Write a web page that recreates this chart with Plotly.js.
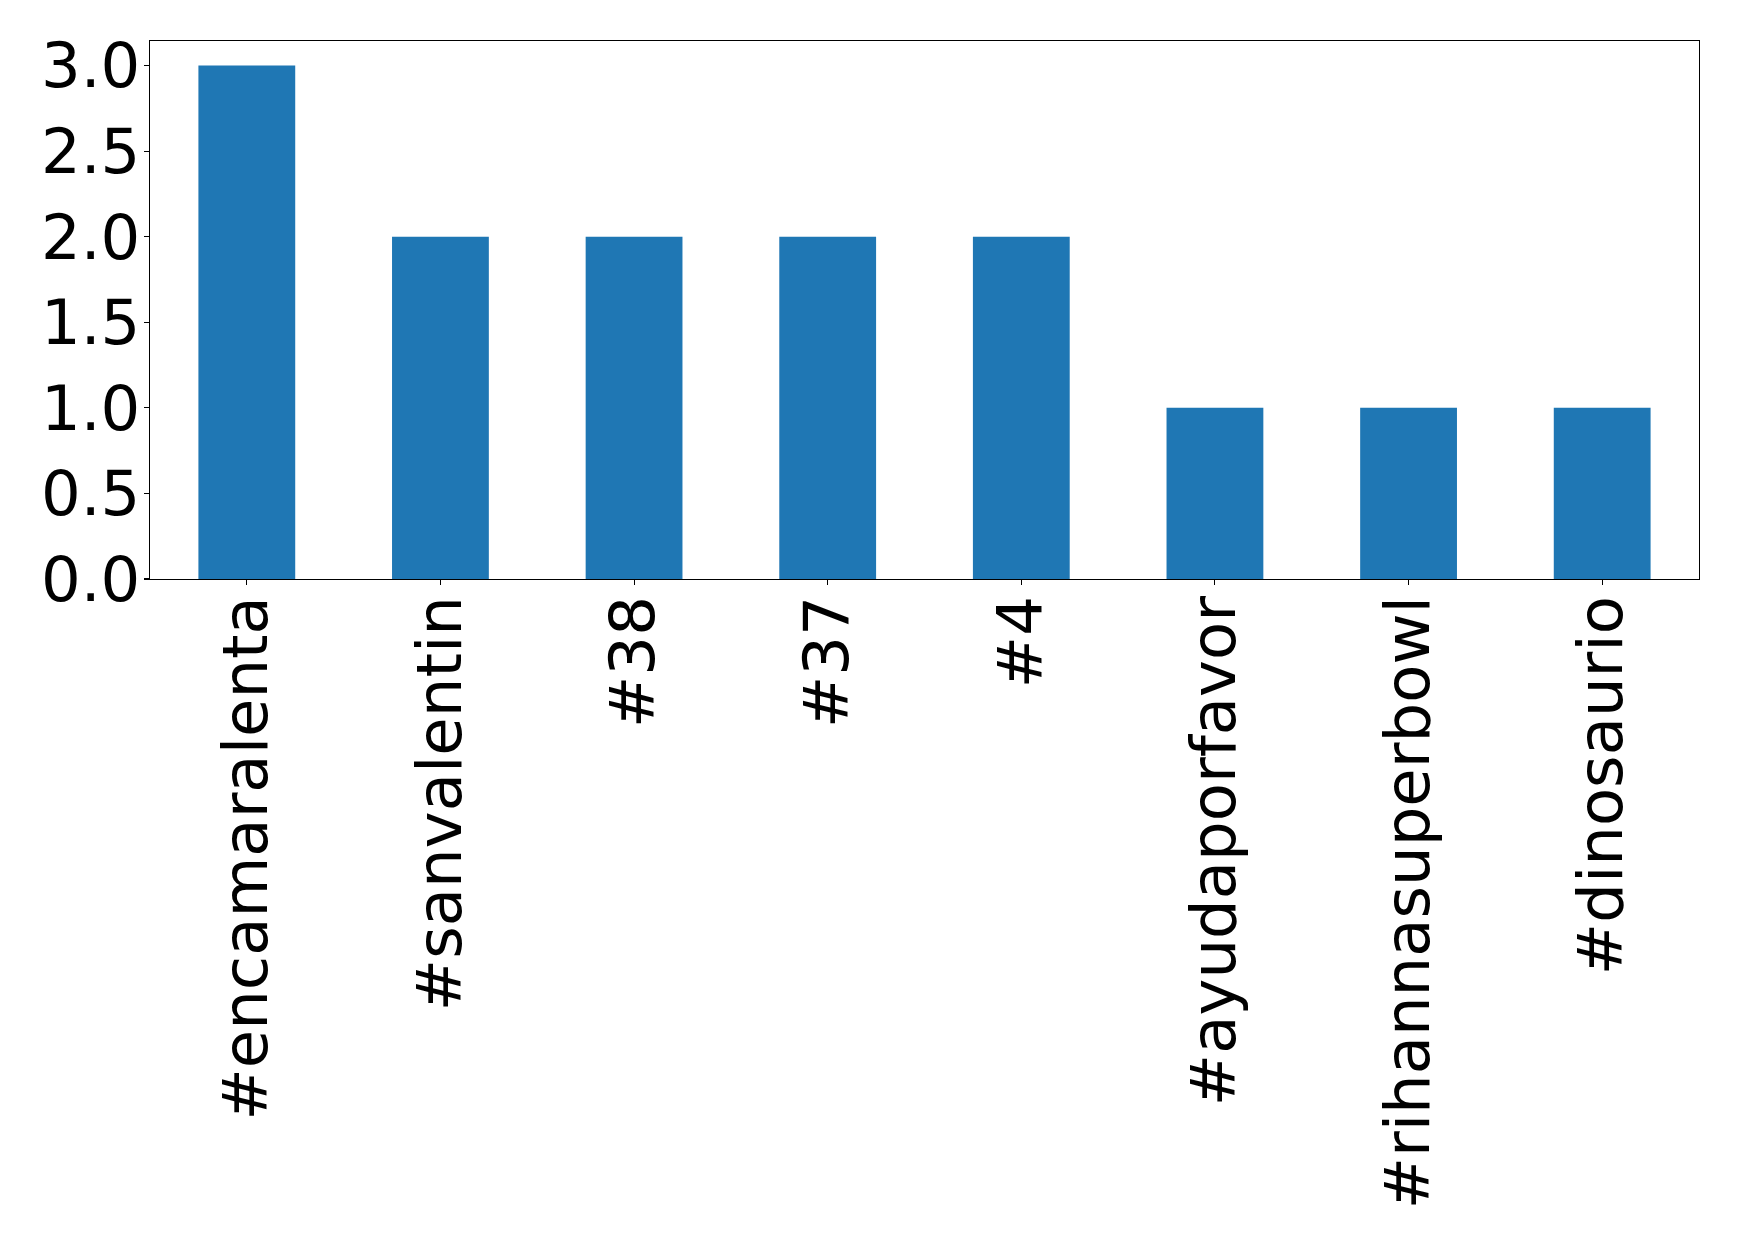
<!DOCTYPE html>
<html>
<head>
<meta charset="utf-8">
<script src="https://cdn.plot.ly/plotly-3.0.1.min.js"></script>
<style>html,body{margin:0;padding:0;background:#fff;}#chart{width:1739px;height:1241px;}</style>
</head>
<body>
<div id="chart"></div>
<script>
const hashtags = ["#encamaralenta", "#sanvalentin", "#38", "#37", "#4", "#ayudaporfavor", "#rihannasuperbowl", "#dinosaurio"];
const counts = [3, 2, 2, 2, 2, 1, 1, 1];
const yTicks = [0, 0.5, 1, 1.5, 2, 2.5, 3];
const yTickText = ["0.0", "0.5", "1.0", "1.5", "2.0", "2.5", "3.0"];

const xIdx = hashtags.map((_, i) => i);

Plotly.newPlot("chart", [{
  type: "bar",
  x: xIdx,
  y: counts,
  width: 0.5,
  marker: {color: "#1f77b4", line: {width: 0}},
  hoverinfo: "x+y"
}], {
  width: 1739, height: 1241,
  margin: {l: 149.5, r: 39.7, t: 40.5, b: 662, pad: 0},
  paper_bgcolor: "#fff", plot_bgcolor: "#fff",
  showlegend: false,
  font: {family: "DejaVu Sans", color: "#000", size: 62.5},
  xaxis: {
    range: [-0.5, 7.5],
    tickmode: "array", tickvals: xIdx, ticktext: hashtags,
    tickangle: -90,
    ticks: "outside", ticklen: 5, tickwidth: 1.1, tickcolor: "#000",
    showline: true, linecolor: "#000", linewidth: 1.1, mirror: true,
    showgrid: false, zeroline: false,
    tickfont: {family: "DejaVu Sans", size: 62.5, color: "#000"},
    ticklabelstandoff: -14
  },
  yaxis: {
    range: [0, 3.143],
    tickmode: "array", tickvals: yTicks, ticktext: yTickText,
    ticks: "outside", ticklen: 5, tickwidth: 1.1, tickcolor: "#000",
    showline: true, linecolor: "#000", linewidth: 1.1, mirror: true,
    showgrid: false, zeroline: false,
    tickfont: {family: "DejaVu Sans", size: 62.5, color: "#000"},
    ticklabelstandoff: -9
  }
}, {staticPlot: true});
</script>
</body>
</html>
